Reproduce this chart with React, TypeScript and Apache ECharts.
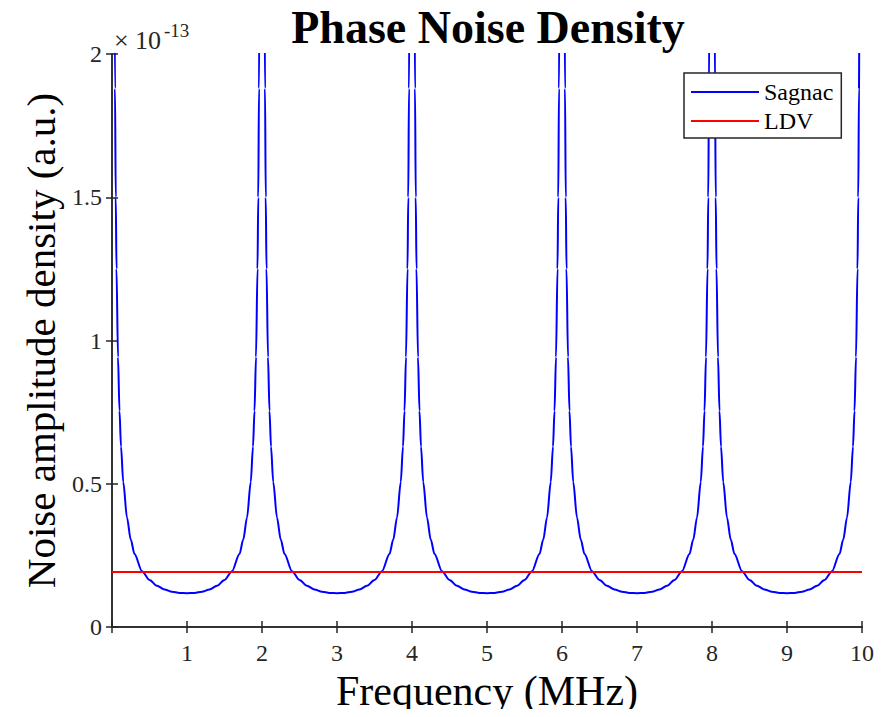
import React, { useEffect, useRef } from "react";
import * as echarts from "echarts";

const titleText = "Phase Noise Density";
const xAxisName = "Frequency (MHz)";
const yAxisName = "Noise amplitude density (a.u.)";
const exponentTimes = "\u00d7";
const exponentBase = "10";
const exponentPower = "-13";
const seriesNames = ["Sagnac", "LDV"];

// Frequency in MHz
const sagnacFreq = [
  0.03, 0.04, 0.05, 0.06, 0.08, 0.1, 0.12, 0.15, 0.2, 0.25, 0.3, 0.4, 0.5, 0.6, 0.7, 0.8, 0.9, 1.0, 1.1, 1.2, 1.3, 1.4, 1.5, 1.6, 1.7, 1.75, 1.8, 1.85, 1.88, 1.9, 1.92, 1.94, 1.95, 1.96, 1.97,
  2.03, 2.04, 2.05, 2.06, 2.08, 2.1, 2.12, 2.15, 2.2, 2.25, 2.3, 2.4, 2.5, 2.6, 2.7, 2.8, 2.9, 3.0, 3.1, 3.2, 3.3, 3.4, 3.5, 3.6, 3.7, 3.75, 3.8, 3.85, 3.88, 3.9, 3.92, 3.94, 3.95, 3.96, 3.97,
  4.03, 4.04, 4.05, 4.06, 4.08, 4.1, 4.12, 4.15, 4.2, 4.25, 4.3, 4.4, 4.5, 4.6, 4.7, 4.8, 4.9, 5.0, 5.1, 5.2, 5.3, 5.4, 5.5, 5.6, 5.7, 5.75, 5.8, 5.85, 5.88, 5.9, 5.92, 5.94, 5.95, 5.96, 5.97,
  6.03, 6.04, 6.05, 6.06, 6.08, 6.1, 6.12, 6.15, 6.2, 6.25, 6.3, 6.4, 6.5, 6.6, 6.7, 6.8, 6.9, 7.0, 7.1, 7.2, 7.3, 7.4, 7.5, 7.6, 7.7, 7.75, 7.8, 7.85, 7.88, 7.9, 7.92, 7.94, 7.95, 7.96, 7.97,
  8.03, 8.04, 8.05, 8.06, 8.08, 8.1, 8.12, 8.15, 8.2, 8.25, 8.3, 8.4, 8.5, 8.6, 8.7, 8.8, 8.9, 9.0, 9.1, 9.2, 9.3, 9.4, 9.5, 9.6, 9.7, 9.75, 9.8, 9.85, 9.88, 9.9, 9.92, 9.94, 9.95, 9.96, 9.97,
];

// Amplitude in units of 1e-13
const sagnacValue = [
  2.51, 1.88, 1.5, 1.25, 0.942, 0.754, 0.63, 0.506, 0.382, 0.305, 0.255, 0.195, 0.164, 0.144, 0.131, 0.123, 0.119, 0.118, 0.119, 0.123, 0.131, 0.144, 0.164, 0.195, 0.255, 0.305, 0.382, 0.506, 0.63, 0.754, 0.942, 1.25, 1.5, 1.88, 2.51,
  2.51, 1.88, 1.5, 1.25, 0.942, 0.754, 0.63, 0.506, 0.382, 0.305, 0.255, 0.195, 0.164, 0.144, 0.131, 0.123, 0.119, 0.118, 0.119, 0.123, 0.131, 0.144, 0.164, 0.195, 0.255, 0.305, 0.382, 0.506, 0.63, 0.754, 0.942, 1.25, 1.5, 1.88, 2.51,
  2.51, 1.88, 1.5, 1.25, 0.942, 0.754, 0.63, 0.506, 0.382, 0.305, 0.255, 0.195, 0.164, 0.144, 0.131, 0.123, 0.119, 0.118, 0.119, 0.123, 0.131, 0.144, 0.164, 0.195, 0.255, 0.305, 0.382, 0.506, 0.63, 0.754, 0.942, 1.25, 1.5, 1.88, 2.51,
  2.51, 1.88, 1.5, 1.25, 0.942, 0.754, 0.63, 0.506, 0.382, 0.305, 0.255, 0.195, 0.164, 0.144, 0.131, 0.123, 0.119, 0.118, 0.119, 0.123, 0.131, 0.144, 0.164, 0.195, 0.255, 0.305, 0.382, 0.506, 0.63, 0.754, 0.942, 1.25, 1.5, 1.88, 2.51,
  2.51, 1.88, 1.5, 1.25, 0.942, 0.754, 0.63, 0.506, 0.382, 0.305, 0.255, 0.195, 0.164, 0.144, 0.131, 0.123, 0.119, 0.118, 0.119, 0.123, 0.131, 0.144, 0.164, 0.195, 0.255, 0.305, 0.382, 0.506, 0.63, 0.754, 0.942, 1.25, 1.5, 1.88, 2.51,
];

const ldvFreq = [0, 10];
const ldvValue = [0.192, 0.192];

const xMin = 0;
const xMax = 10;
const xStep = 1;
const yMin = 0;
const yMax = 2;
const yStep = 0.5;

const FONT = "Liberation Serif";
const AXIS_COLOR = "#262626";

export default function App() {
  const ref = useRef<HTMLDivElement>(null);

  useEffect(() => {
    if (!ref.current) return;
    const chart = echarts.init(ref.current, null, { renderer: "svg" });

    const sagnacData = sagnacFreq.map((f, i) => [f, sagnacValue[i]]);
    const ldvData = ldvFreq.map((f, i) => [f, ldvValue[i]]);

    const axisLine = { show: true, lineStyle: { color: AXIS_COLOR, width: 1.5 } };
    const axisTick = { show: true, inside: true, length: 6, lineStyle: { color: AXIS_COLOR, width: 1.5 } };

    const option = {
      animation: false,
      backgroundColor: "#ffffff",
      textStyle: { fontFamily: FONT },
      title: {
        text: titleText,
        left: 483,
        top: -1,
        textAlign: "center",
        textStyle: { fontFamily: FONT, fontWeight: "bold", fontSize: 46, color: "#000" },
      },
      legend: {
        data: seriesNames,
        orient: "vertical",
        left: 684,
        top: 73,
        icon: "rect",
        itemWidth: 68,
        itemHeight: 2,
        itemGap: 5,
        padding: [7, 8, 5, 7],
        borderColor: AXIS_COLOR,
        borderWidth: 1.5,
        borderRadius: 0,
        backgroundColor: "#ffffff",
        textStyle: { fontFamily: FONT, fontSize: 24, color: "#000" },
      },
      grid: { left: 112, right: 25, top: 54, bottom: 90, containLabel: false },
      xAxis: [
        {
          type: "value",
          min: xMin,
          max: xMax,
          interval: xStep,
          position: "bottom",
          name: xAxisName,
          nameLocation: "middle",
          nameGap: 43,
          nameTextStyle: { fontFamily: FONT, fontSize: 42, color: "#000" },
          axisLine,
          axisTick,
          splitLine: { show: false },
          axisLabel: {
            fontFamily: FONT,
            fontSize: 24,
            color: AXIS_COLOR,
            margin: 14,
            formatter: (v: number) => (v === 0 ? "" : String(v)),
          },
        },
        {
          type: "value",
          min: xMin,
          max: xMax,
          interval: xStep,
          position: "top",
          axisLine,
          axisTick,
          splitLine: { show: false },
          axisLabel: { show: false },
        },
      ],
      yAxis: [
        {
          type: "value",
          min: yMin,
          max: yMax,
          interval: yStep,
          position: "left",
          name: yAxisName,
          nameLocation: "middle",
          nameGap: 50,
          nameTextStyle: { fontFamily: FONT, fontSize: 41, color: "#000" },
          axisLine,
          axisTick,
          splitLine: { show: false },
          axisLabel: {
            fontFamily: FONT,
            fontSize: 24,
            color: AXIS_COLOR,
            margin: 10,
            formatter: (v: number) => String(v),
          },
        },
        {
          type: "value",
          min: yMin,
          max: yMax,
          interval: yStep,
          position: "right",
          axisLine,
          axisTick,
          splitLine: { show: false },
          axisLabel: { show: false },
        },
      ],
      graphic: [
        {
          type: "text",
          left: 114,
          top: 27,
          style: { text: exponentTimes, fontFamily: FONT, fontSize: 26, fill: AXIS_COLOR },
        },
        {
          type: "text",
          left: 135,
          top: 27,
          style: { text: exponentBase, fontFamily: FONT, fontSize: 26, fill: AXIS_COLOR },
        },
        {
          type: "text",
          left: 164,
          top: 21,
          style: { text: exponentPower, fontFamily: FONT, fontSize: 19, fill: AXIS_COLOR },
        },
      ],
      series: [
        {
          name: seriesNames[0],
          type: "line",
          data: sagnacData,
          xAxisIndex: 0,
          yAxisIndex: 0,
          showSymbol: false,
          symbol: "none",
          smooth: 0.3,
          smoothMonotone: "x",
          clip: true,
          lineStyle: { color: "#0000ff", width: 2 },
          itemStyle: { color: "#0000ff" },
          z: 2,
        },
        {
          name: seriesNames[1],
          type: "line",
          data: ldvData,
          xAxisIndex: 0,
          yAxisIndex: 0,
          showSymbol: false,
          symbol: "none",
          clip: true,
          lineStyle: { color: "#ff0000", width: 2 },
          itemStyle: { color: "#ff0000" },
          z: 3,
        },
      ],
    };

    chart.setOption(option as any);
    return () => chart.dispose();
  }, []);

  return <div ref={ref} style={{ width: 887, height: 717, margin: -8 }} />;
}
